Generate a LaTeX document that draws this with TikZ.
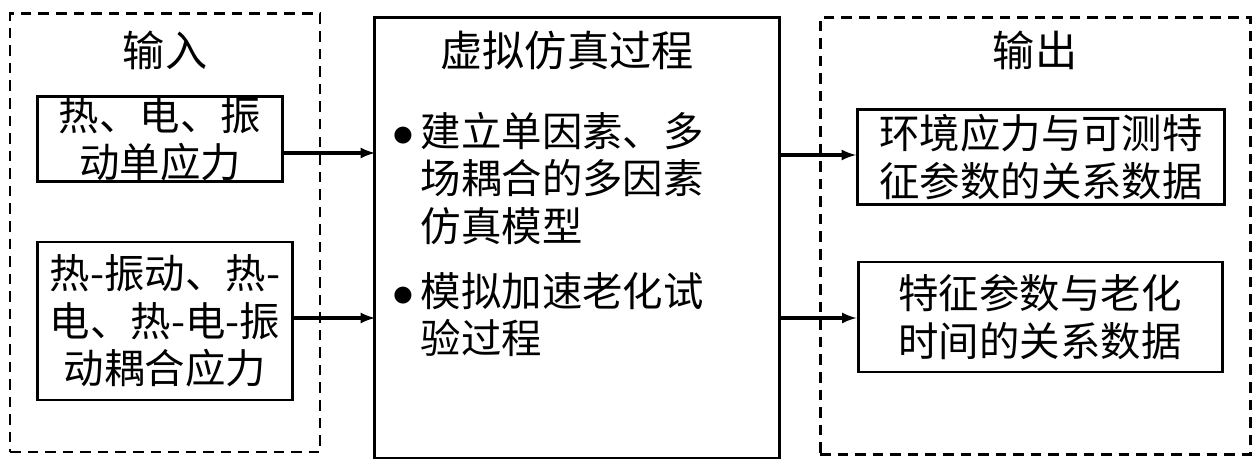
\documentclass[tikz,border=0pt]{standalone}
\usepackage{fontspec}
\newfontfamily\cjk{Noto Sans CJK SC}
\usetikzlibrary{arrows,positioning}
\begin{document}
\begin{tikzpicture}[x=0.02cm,y=-0.02cm,>=latex,
    font=\cjk\fontsize{23}{27}\selectfont,
    conn/.style={->,draw,line width=1.8pt},
    box node/.style={draw,line width=1.7pt,align=center,inner sep=0pt},
    frame node/.style={draw,line width=1.7pt,dash pattern=on 6pt off 4pt,inner sep=0pt},
    title node/.style={font=\cjk\fontsize{24}{28}\selectfont}]
  \useasboundingbox (0,0) rectangle (1260,472);
  \begin{scope}
    % frames
    \node[frame node,minimum width=310*0.02cm,minimum height=438*0.02cm] (inframe) at (165,233) {};
    \node[draw,line width=1.7pt,inner sep=0pt,minimum width=405*0.02cm,minimum height=440*0.02cm] (sim) at (577,238) {};
    \node[frame node,minimum width=430*0.02cm,minimum height=437*0.02cm] (outframe) at (1035,236) {};
    \node[title node] (tin) at (165,50) {输入};
    \node[title node] (tsim) at (567,50) {虚拟仿真过程};
    \node[title node] (tout) at (1035,50) {输出};
    % inputs
    \node[box node,minimum width=245*0.02cm,minimum height=82*0.02cm] (a) at (160,139) {热、电、振\\动单应力};
    \node[box node,minimum width=255*0.02cm,minimum height=158*0.02cm] (b) at (165,321) {热-振动、热-\\电、热-电-振\\动耦合应力};
    % outputs
    \node[box node,minimum width=367*0.02cm,minimum height=95*0.02cm] (c) at (1041,157) {环境应力与可测特\\征参数的关系数据};
    \node[box node,minimum width=364*0.02cm,minimum height=110*0.02cm] (d) at (1040,317) {特征参数与老化\\时间的关系数据};
    % process text
    \node[anchor=north west,align=left,inner sep=0pt] (p1) at (392,112) {$\bullet$\,建立单因素、多\\\phantom{$\bullet$\,}场耦合的多因素\\\phantom{$\bullet$\,}仿真模型};
    \node[anchor=north west,align=left,inner sep=0pt] (p2) at (392,272) {$\bullet$\,模拟加速老化试\\\phantom{$\bullet$\,}验过程};
    % connectors
    \coordinate (s1) at (375,153);
    \coordinate (s2) at (375,318);
    \coordinate (e1) at (780,155);
    \coordinate (e2) at (780,318);
    \path[conn] (a.east |- s1) -- (s1);
    \path[conn] (b.east |- s2) -- (s2);
    \path[conn] (e1) -- (c.west |- e1);
    \path[conn] (e2) -- (d.west |- e2);
  \end{scope}
\end{tikzpicture}
\end{document}
